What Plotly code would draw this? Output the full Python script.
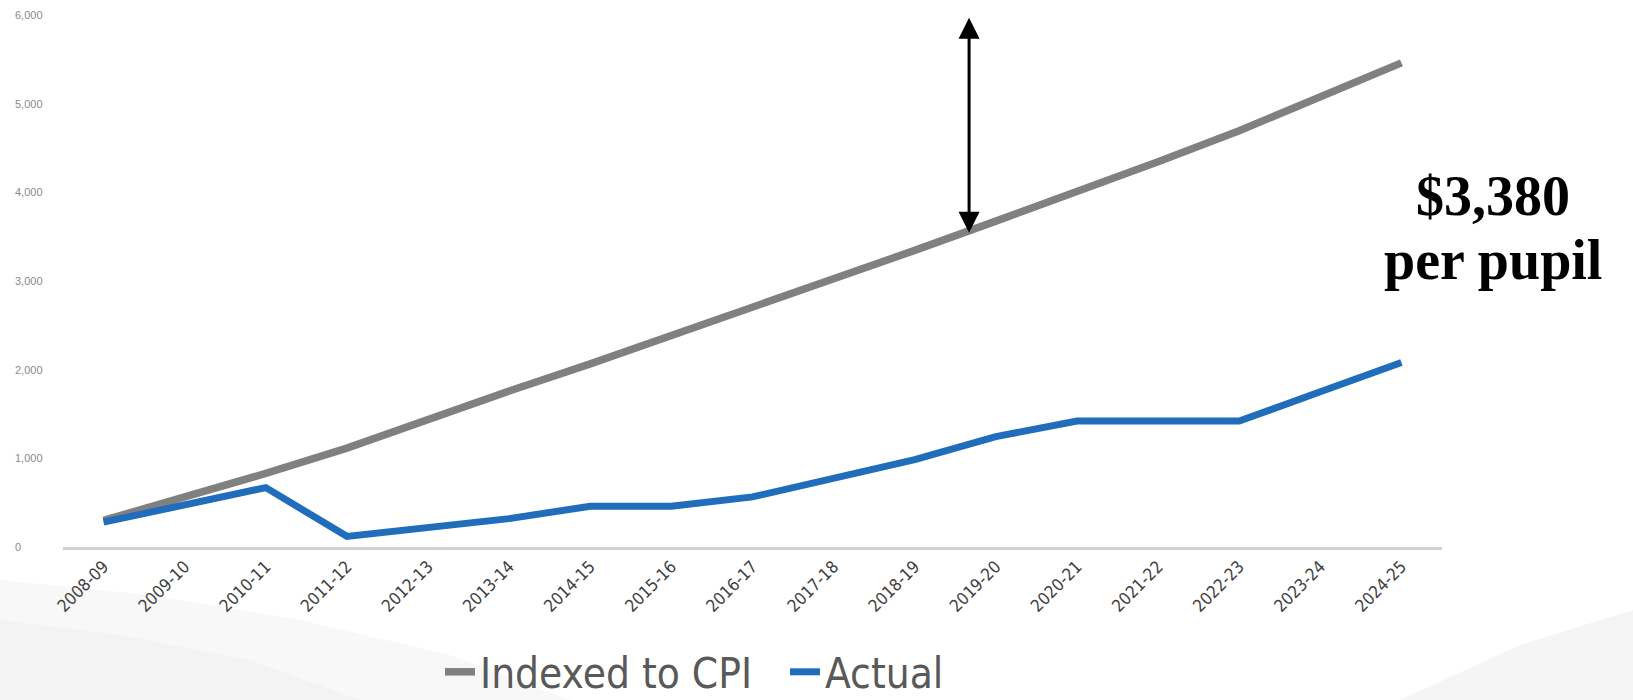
import plotly.graph_objects as go

years = ["2008-09", "2009-10", "2010-11", "2011-12", "2012-13", "2013-14", "2014-15",
         "2015-16", "2016-17", "2017-18", "2018-19", "2019-20", "2020-21", "2021-22",
         "2022-23", "2023-24", "2024-25"]
indexed_cpi = [300, 560, 830, 1115, 1440, 1760, 2065, 2380, 2700, 3015, 3345, 3675,
               4005, 4345, 4695, 5070, 5460]
actual = [280, 470, 670, 120, 215, 320, 460, 460, 565, 775, 985, 1245, 1420, 1420,
          1420, 1750, 2080]
y_ticks = [0, 1000, 2000, 3000, 4000, 5000, 6000]
y_tick_text = ["0", "1,000", "2,000", "3,000", "4,000", "5,000", "6,000"]

W, H = 1633, 700
ML, MR, MT, MB = 63, 191, 15, 153
PW, PH = W - ML - MR, H - MT - MB


def px(x):
    return (x - ML) / PW


def py(y):
    return (H - MB - y) / PH


fig = go.Figure()
fig.add_trace(go.Scatter(x=years, y=indexed_cpi, mode="lines", name="Indexed to CPI",
                         line=dict(color="#808080", width=7.5)))
fig.add_trace(go.Scatter(x=years, y=actual, mode="lines", name="Actual",
                         line=dict(color="#1f6dbb", width=7)))

annotations = []
for v, t in zip(y_ticks, y_tick_text):
    annotations.append(dict(x=px(13), xref="paper", y=v, yref="y", text=t,
                            showarrow=False, xanchor="left", yanchor="middle",
                            font=dict(family="Liberation Sans", size=11, color="#8a8a8a")))

# double-headed gap arrow
annotations.append(dict(x=10.67, y=3545, xref="x", yref="y", ax=10.67, ay=5985,
                        axref="x", ayref="y", text="", showarrow=True,
                        arrowhead=2, startarrowhead=2, arrowside="end+start",
                        arrowsize=1.4, startarrowsize=1.4, arrowwidth=3, arrowcolor="black"))
annotations.append(dict(x=px(1493), y=py(196), xref="paper", yref="paper", text="<b>$3,380</b>",
                        showarrow=False, xanchor="center", yanchor="middle",
                        font=dict(family="Liberation Serif", size=56, color="black")))
annotations.append(dict(x=px(1493), y=py(260), xref="paper", yref="paper", text="<b>per pupil</b>",
                        showarrow=False, xanchor="center", yanchor="middle",
                        font=dict(family="Liberation Serif", size=56, color="black")))


def path(points):
    s = "M " + " L ".join(f"{px(a):.4f},{py(b):.4f}" for a, b in points) + " Z"
    return s


shapes = [
    dict(type="path", xref="paper", yref="paper", layer="below", line=dict(width=0),
         fillcolor="#f8f8f8",
         path=path([(0, 580), (150, 595), (300, 620), (450, 655), (570, 700), (0, 700)])),
    dict(type="path", xref="paper", yref="paper", layer="below", line=dict(width=0),
         fillcolor="#f3f3f3",
         path=path([(0, 620), (120, 635), (250, 660), (360, 700), (0, 700)])),
    dict(type="path", xref="paper", yref="paper", layer="below", line=dict(width=0),
         fillcolor="#f5f5f5",
         path=path([(1633, 610), (1520, 645), (1400, 700), (1633, 700)])),
]

fig.update_layout(
    width=W, height=H,
    margin=dict(l=ML, r=MR, t=MT, b=MB, autoexpand=False),
    paper_bgcolor="white", plot_bgcolor="rgba(0,0,0,0)",
    showlegend=True,
    legend=dict(orientation="h", xref="container", x=440 / W, xanchor="left",
                yref="container", y=1 - 672 / H, yanchor="middle",
                font=dict(family="DejaVu Sans Condensed, Liberation Sans", size=42, color="#595959"),
                bgcolor="rgba(0,0,0,0)", itemwidth=30, entrywidth=300, entrywidthmode="pixels"),
    xaxis=dict(type="category", showgrid=False, zeroline=False, showline=True,
               linecolor="#d0d0d0", linewidth=3, ticks="", tickangle=-45, automargin=False,
               tickfont=dict(family="DejaVu Sans Condensed, Liberation Sans", size=17, color="#404040"),
               range=[-0.5, 16.5], fixedrange=True),
    yaxis=dict(range=[0, 6000], showgrid=False, zeroline=False, showline=False,
               showticklabels=False, ticks="", fixedrange=True, automargin=False),
    annotations=annotations,
    shapes=shapes,
)

fig.write_html("out.html")
